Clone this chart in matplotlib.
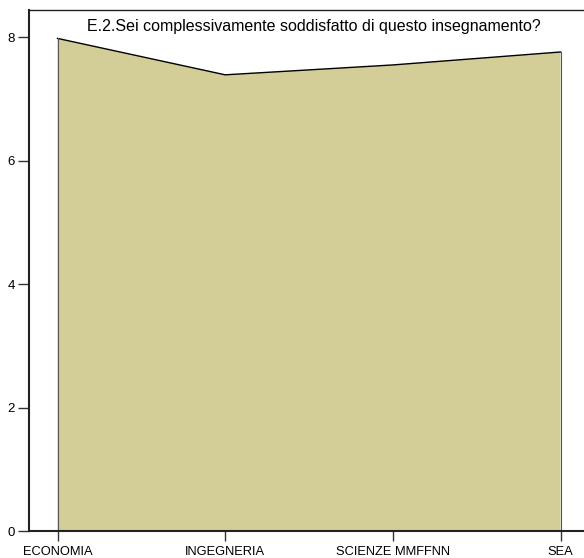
import matplotlib
matplotlib.use("Agg")
import matplotlib.pyplot as plt

plt.rcParams['font.family'] = ['Liberation Sans', 'DejaVu Sans']

# dati
facolta = ["ECONOMIA", "INGEGNERIA", "SCIENZE MMFFNN", "SEA"]
soddisfazione = [7.98, 7.39, 7.55, 7.76]
y_ticks = [0, 2, 4, 6, 8]
titolo = "E.2.Sei complessivamente soddisfatto di questo insegnamento?"

fig = plt.figure(figsize=(5.84, 5.58), dpi=100)
ax = fig.add_axes([29 / 584, 27 / 558, 1 - 29 / 584, (531 - 10) / 558])

x = list(range(len(facolta)))
ax.fill_between(x, 0, soddisfazione, color="#D3CD98", edgecolor="none")
ax.plot(x, soddisfazione, color="black", lw=1.0)
ax.plot([x[0], x[0]], [0, soddisfazione[0]], color="#555555", lw=0.8)
ax.plot([x[-1], x[-1]], [0, soddisfazione[-1]], color="#555555", lw=0.8)

ax.set_xlim(-0.17, 3.14)
ax.set_ylim(0, 8.44)
ax.set_xticks(x)
ax.set_xticklabels(facolta, fontsize=9.3)
ax.set_yticks(y_ticks)
ax.set_yticklabels([str(v) for v in y_ticks], fontsize=9.5)
ax.tick_params(axis="x", direction="out", length=7, width=1, color="#333333", pad=4)
ax.tick_params(axis="y", direction="out", length=8, width=1, color="#333333", pad=2)

ax.spines["right"].set_visible(False)
ax.spines["left"].set_linewidth(1.5)
ax.spines["bottom"].set_linewidth(1.5)
ax.spines["top"].set_linewidth(1.0)
for s in ax.spines.values():
    s.set_color("#222222")

fig.text(314 / 584, 1 - 26 / 558, titolo, ha="center", va="center", fontsize=11.5)

fig.savefig("out.png", dpi=100)
